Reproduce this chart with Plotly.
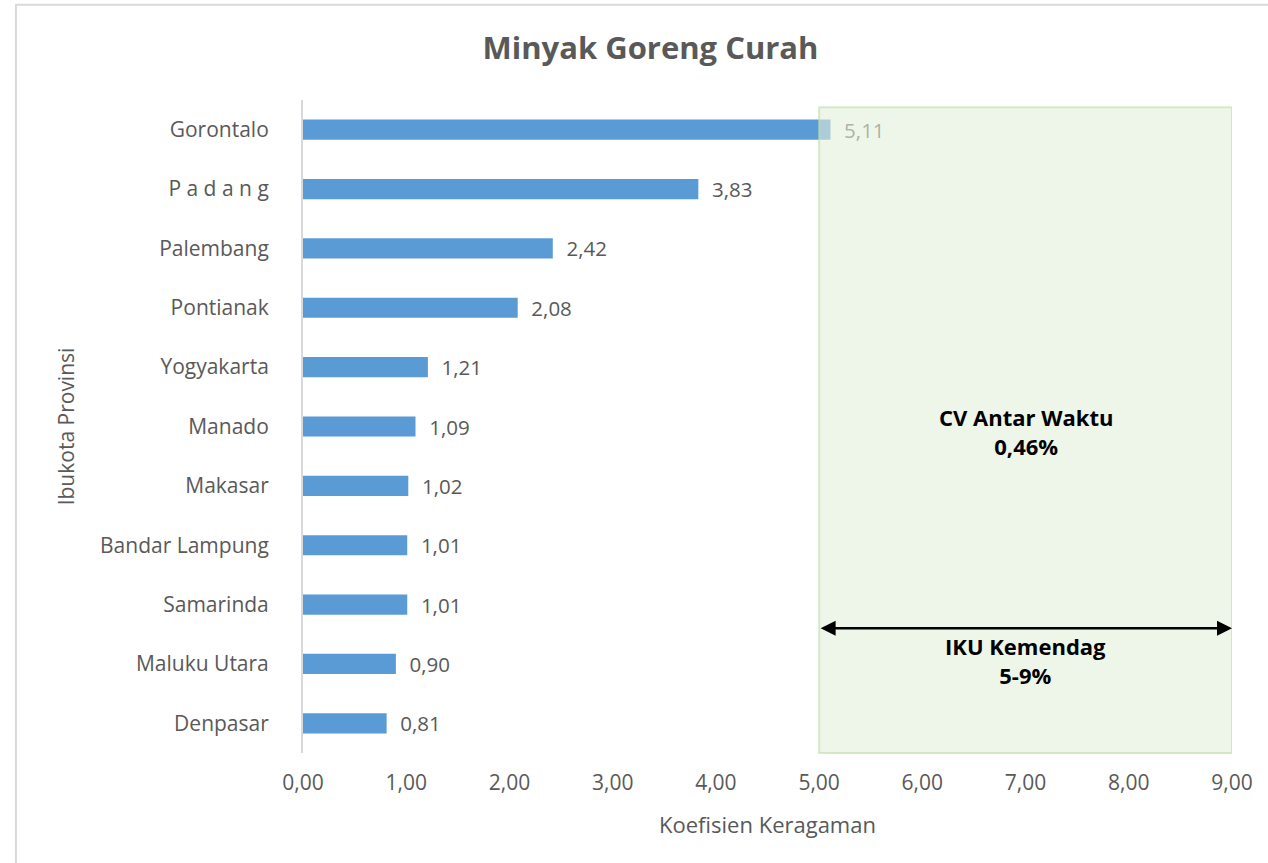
import plotly.graph_objects as go

cities = ["Denpasar", "Maluku Utara", "Samarinda", "Bandar Lampung", "Makasar",
          "Manado", "Yogyakarta", "Pontianak", "Palembang", "P a d a n g", "Gorontalo"]
values = [0.81, 0.90, 1.01, 1.01, 1.02, 1.09, 1.21, 2.08, 2.42, 3.83, 5.11]
tick_vals = [0, 1, 2, 3, 4, 5, 6, 7, 8, 9]
tick_text = ["0,00", "1,00", "2,00", "3,00", "4,00", "5,00", "6,00", "7,00", "8,00", "9,00"]
band_lo, band_hi = 5, 9
cv_text = "<b>CV Antar Waktu<br>0,46%</b>"
iku_text = "<b>IKU Kemendag<br>5-9%</b>"

FONT = "Open Sans"
GRAY = "#595959"

labels = [f"{v:.2f}".replace(".", ",") for v in values]

fig = go.Figure()
fig.add_trace(go.Bar(
    y=cities, x=values, orientation="h",
    marker=dict(color="#5B9BD5", line=dict(width=0)),
    width=0.34,
    text=labels, texttemplate="\u00a0\u00a0%{text}",
    textposition="outside", cliponaxis=False, constraintext="none",
    textfont=dict(family=FONT, size=20.5, color=GRAY),
    hoverinfo="skip",
))

# green target band (drawn above bars, semi-transparent)
fig.add_shape(type="rect", xref="x", yref="paper",
              x0=band_lo, x1=band_hi, y0=0, y1=0.989,
              fillcolor="rgba(226,239,218,0.6)",
              line=dict(color="rgba(190,222,170,0.6)", width=2),
              layer="above")

# outer chart border
fig.add_shape(type="rect", xref="paper", yref="paper",
              x0=-0.309, x1=1.2, y0=-0.3, y1=1.146,
              line=dict(color="#D9D9D9", width=2), fillcolor="rgba(0,0,0,0)",
              layer="below")

# double arrow
fig.add_annotation(x=band_hi, y=0.191, xref="x", yref="paper",
                   ax=band_lo, ay=0, axref="x", ayref="pixel",
                   showarrow=True, arrowhead=2, arrowside="end+start",
                   arrowsize=1.2, arrowwidth=2.5, arrowcolor="black", text="")

fig.add_annotation(x=(band_lo + band_hi) / 2, y=0.4916, xref="x", yref="paper",
                   yanchor="middle",
                   text=cv_text, showarrow=False,
                   font=dict(family=FONT, size=22, color="black"))
fig.add_annotation(x=(band_lo + band_hi) / 2, y=0.141, xref="x", yref="paper",
                   yanchor="middle",
                   text=iku_text, showarrow=False,
                   font=dict(family=FONT, size=22, color="black"))

fig.update_layout(
    width=1268, height=863,
    paper_bgcolor="white", plot_bgcolor="white",
    margin=dict(l=303, r=36, t=100, b=110, autoexpand=False),
    showlegend=False,
    title=dict(text="<b>Minyak Goreng Curah</b>", x=0.513, xref="container",
               xanchor="center", y=0.944, yref="container", yanchor="middle",
               font=dict(family=FONT, size=31, color=GRAY)),
    font=dict(family=FONT, color=GRAY),
    xaxis=dict(range=[0, 9], tickvals=tick_vals, ticktext=tick_text,
               showgrid=False, zeroline=False, showline=False, ticks="",
               ticklabelstandoff=15,
               tickfont=dict(family=FONT, size=21, color=GRAY),
               title=dict(text="Koefisien Keragaman", standoff=22,
                          font=dict(family=FONT, size=22, color=GRAY))),
    yaxis=dict(range=[-0.5, 10.5], showgrid=False, zeroline=False,
               showline=True, linecolor="#D9D9D9", linewidth=2,
               ticks="", ticklabelstandoff=28,
               tickfont=dict(family=FONT, size=21, color=GRAY),
               title=dict(text="Ibukota Provinsi", standoff=20,
                          font=dict(family=FONT, size=21, color=GRAY))),
)

fig.write_html("out.html", config={"displayModeBar": False},
               post_script="document.body.style.margin='0';")
